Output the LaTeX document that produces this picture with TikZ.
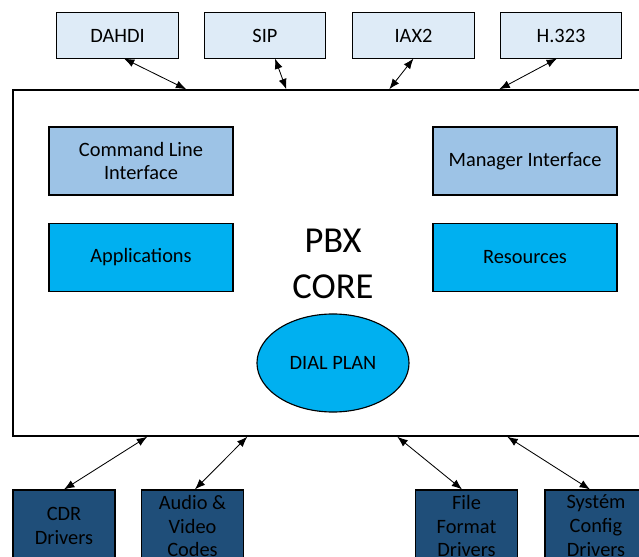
\documentclass[tikz,border=0pt]{standalone}
\usepackage{fontspec}
\setmainfont{Carlito}
\usetikzlibrary{arrows.meta,shapes.geometric}

\definecolor{protofill}{HTML}{DEEBF7}
\definecolor{ifacefill}{HTML}{9DC3E6}
\definecolor{modfill}{HTML}{00B0F0}
\definecolor{drvfill}{HTML}{1F4E79}

\tikzset{
	protobox/.style={draw, line width=0.7pt, fill=protofill, minimum width=3.025cm, minimum height=1.125cm, font=\fontsize{14.5}{17}\selectfont},
	ifacebox/.style={draw, line width=0.8pt, fill=ifacefill, minimum width=4.6cm, minimum height=1.7cm, align=center, font=\fontsize{14.5}{17}\selectfont},
	modbox/.style={draw, line width=0.8pt, fill=modfill, minimum width=4.6cm, minimum height=1.72cm, font=\fontsize{14.5}{17}\selectfont},
	drvbox/.style={draw, line width=0.8pt, fill=drvfill, minimum width=2.55cm, minimum height=1.8cm, align=center, font=\fontsize{14.5}{17}\selectfont},
	link/.style={{Latex[length=2.6mm,width=2mm]}-{Latex[length=2.6mm,width=2mm]}, line width=0.6pt},
}

\begin{document}
\begin{tikzpicture}[x=0.025cm, y=-0.025cm]
	\clip (0,0) rectangle (639,557);
	\fill[white] (0,0) rectangle (639,557);
	% core box, runs off the right edge
	\node[draw, line width=1pt, minimum width=16.175cm, minimum height=8.65cm] (core) at (336.5,263) {};
	% protocols
	\node[protobox] (dahdi) at (117.5,35.5) {DAHDI};
	\node[protobox] (sip) at (265,35.5) {SIP};
	\node[protobox] (iax) at (413.5,35.5) {IAX2};
	\node[protobox] (h323) at (561,35.5) {H.323};
	% inside the core
	\node[ifacebox] (cli) at (141,161) {Command Line\\Interface};
	\node[ifacebox] (mgr) at (525,161) {Manager Interface};
	\node[modbox] (apps) at (141,257.5) {Applications};
	\node[modbox] (res) at (525,257.5) {Resources};
	\node[align=center, font=\fontsize{26}{32.7}\selectfont] (pbx) at (333,264) {PBX\\CORE};
	\node[ellipse, draw, line width=0.8pt, fill=modfill, minimum width=3.8cm, minimum height=2.45cm, font=\fontsize{14.5}{17}\selectfont] (dial) at (333,363) {DIAL PLAN};
	% drivers
	\node[drvbox] (cdr) at (64,526) {CDR\\Drivers};
	\node[drvbox] (codec) at (192.5,526) {Audio \&\\Video\\Codes};
	\node[drvbox] (ffmt) at (466.5,526) {File\\Format\\Drivers};
	\node[drvbox] (cfg) at (596,526) {Systém\\Config\\Drivers};
	% links
	\draw[link] ([xshift=0.16cm]dahdi.south) -- ([xshift=4.35cm]core.north west);
	\draw[link] ([xshift=0.25cm]sip.south) -- ([xshift=6.85cm]core.north west);
	\draw[link] (iax.south) -- ([xshift=9.425cm]core.north west);
	\draw[link] ([xshift=-0.1cm]h323.south) -- ([xshift=12.175cm]core.north west);
	\draw[link] (cdr.north) -- ([xshift=3.375cm]core.south west);
	\draw[link] ([xshift=0.06cm]codec.north) -- ([xshift=5.875cm]core.south west);
	\draw[link] ([xshift=-0.11cm]ffmt.north) -- ([xshift=9.625cm]core.south west);
	\draw[link] ([xshift=-0.15cm]cfg.north) -- ([xshift=12.375cm]core.south west);
\end{tikzpicture}
\end{document}
